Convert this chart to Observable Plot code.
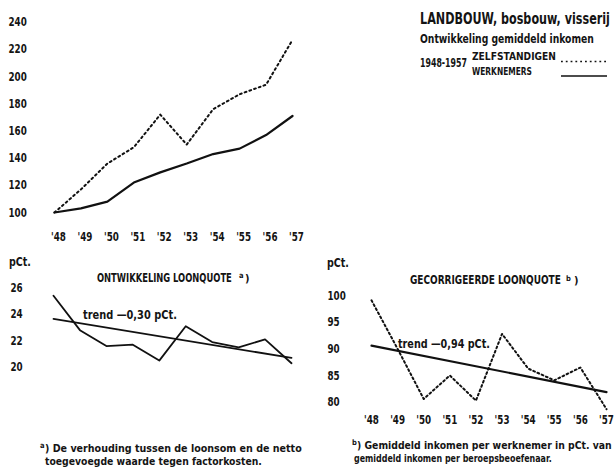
<!DOCTYPE html>
<html>
<head>
<meta charset="utf-8">
<script src="https://cdn.jsdelivr.net/npm/d3@7"></script>
<script src="https://cdn.jsdelivr.net/npm/@observablehq/plot@0.6"></script>
<style>
  html, body { margin: 0; padding: 0; background: #fff; }
  #wrap { position: relative; width: 615px; height: 471px; overflow: hidden; background: #fff; }
  #wrap > svg, #wrap > div { position: absolute; }
  .t { font-family: "Liberation Sans Narrow", "DejaVu Sans Condensed", "Liberation Sans", sans-serif; font-weight: bold; fill: #141414; }
</style>
</head>
<body>
<div id="wrap"></div>
<script>
// ---------- data ----------
const years = [1948, 1949, 1950, 1951, 1952, 1953, 1954, 1955, 1956, 1957];
const yearLabels = ["'48", "'49", "'50", "'51", "'52", "'53", "'54", "'55", "'56", "'57"];
const zelfstandigen = [100, 117, 136, 148, 172, 150, 176, 187, 194, 227];
const werknemers = [100, 103, 108, 122, 129.5, 136, 143, 147, 157, 171];
const loonquote = [25.4, 22.8, 21.6, 21.7, 20.5, 23.1, 21.9, 21.5, 22.1, 20.3];
const trendYears = [1948, 1957];
const loonquoteTrend = [23.65, 20.7];
const gecorrigeerd = [99.1, 90, 80.6, 85, 80.3, 92.8, 86.3, 84.1, 86.5, 78.7];
const gecorrigeerdTrend = [90.6, 81.9];
const topTicks = [100, 120, 140, 160, 180, 200, 220, 240];
const loonTicks = [20, 22, 24, 26];
const gecTicks = [80, 85, 90, 95, 100];

// ---------- tables ----------
const topZ = years.map((y, i) => ({year: y, v: zelfstandigen[i]}));
const topW = years.map((y, i) => ({year: y, v: werknemers[i]}));
const lq = years.map((y, i) => ({year: y, v: loonquote[i]}));
const lqT = trendYears.map((y, i) => ({year: y, v: loonquoteTrend[i]}));
const gc = years.map((y, i) => ({year: y, v: gecorrigeerd[i]}));
const gcT = trendYears.map((y, i) => ({year: y, v: gecorrigeerdTrend[i]}));
const fmtYear = d => yearLabels[years.indexOf(d)];

const FONT = '"Liberation Sans Narrow", "DejaVu Sans Condensed", "Liberation Sans", sans-serif';
const baseStyle = {fontFamily: FONT, fontWeight: "bold", fontSize: "12px", color: "#141414", background: "transparent", overflow: "visible"};
const wrap = document.getElementById("wrap");

function place(el, left, topPx) { el.style.left = left + "px"; el.style.top = topPx + "px"; wrap.appendChild(el); }
// narrow the tick labels horizontally (condensed look of the original lettering)
function squeezeTicks(svg, sx) {
  svg.querySelectorAll('g[aria-label$="tick label"] text').forEach(t => {
    const tr = t.getAttribute("transform");
    if (tr) t.setAttribute("transform", tr + ` scale(${sx},1)`);
  });
}

// ---------- top chart ----------
const topChart = Plot.plot({
  width: 310, height: 250,
  marginLeft: 54, marginRight: 18, marginTop: 21.7, marginBottom: 38,
  style: baseStyle,
  x: {domain: [1948, 1957]},
  y: {domain: [100, 240]},
  marks: [
    Plot.axisY(topTicks, {anchor: "left", label: null, tickSize: 0, tickPadding: 46, textAnchor: "start", fontSize: 12.5}),
    Plot.axisX(years, {anchor: "bottom", label: null, tickSize: 0, tickPadding: 20, tickFormat: fmtYear, dx: 4, fontSize: 12.5}),
    Plot.line(topZ, {x: "year", y: "v", stroke: "#111", strokeWidth: 2, strokeDasharray: "1.8,3.2"}),
    Plot.line(topW, {x: "year", y: "v", stroke: "#111", strokeWidth: 2.2})
  ]
});
squeezeTicks(topChart, 0.78);
place(topChart, 0, 0);

// ---------- bottom-left chart ----------
const blChart = Plot.plot({
  width: 310, height: 150,
  marginLeft: 53, marginRight: 19, marginTop: 37.3, marginBottom: 33.3,
  style: baseStyle,
  x: {domain: [1948, 1957], axis: null},
  y: {domain: [20, 26]},
  marks: [
    Plot.axisY(loonTicks, {anchor: "left", label: null, tickSize: 0, tickPadding: 43, textAnchor: "start", fontSize: 12.5}),
    Plot.line(lqT, {x: "year", y: "v", stroke: "#111", strokeWidth: 1.8}),
    Plot.line(lq, {x: "year", y: "v", stroke: "#111", strokeWidth: 1.8})
  ]
});
squeezeTicks(blChart, 0.78);
place(blChart, 0, 250);

// ---------- bottom-right chart ----------
const brChart = Plot.plot({
  width: 305, height: 190,
  marginLeft: 61, marginRight: 9, marginTop: 45, marginBottom: 38.3,
  style: baseStyle,
  x: {domain: [1948, 1957]},
  y: {domain: [80, 100]},
  marks: [
    Plot.axisY(gecTicks, {anchor: "left", label: null, tickSize: 0, tickPadding: 44, textAnchor: "start", fontSize: 12.5}),
    Plot.axisX(years, {anchor: "bottom", label: null, tickSize: 0, tickPadding: 13, tickFormat: fmtYear, fontSize: 12.5}),
    Plot.line(gcT, {x: "year", y: "v", stroke: "#111", strokeWidth: 2.2}),
    Plot.line(gc, {x: "year", y: "v", stroke: "#111", strokeWidth: 2, strokeDasharray: "1.8,2.8"})
  ]
});
squeezeTicks(brChart, 0.78);
place(brChart, 310, 250);

// ---------- titles, legend, notes ----------
const NS = "http://www.w3.org/2000/svg";
const ov = document.createElementNS(NS, "svg");
ov.setAttribute("width", 615); ov.setAttribute("height", 471);
ov.style.pointerEvents = "none";
place(ov, 0, 0);
function txt(str, x, y, size, len) {
  const t = document.createElementNS(NS, "text");
  t.setAttribute("class", "t");
  t.setAttribute("font-size", size);
  t.textContent = str;
  ov.appendChild(t);
  let sx = 1;
  if (len) { const nat = t.getComputedTextLength(); if (nat > 0) sx = len / nat; }
  t.setAttribute("transform", `translate(${x},${y}) scale(${sx.toFixed(4)},1)`);
  return t;
}
function seg(x1, y1, x2, y2, dash, w) {
  const l = document.createElementNS(NS, "line");
  l.setAttribute("x1", x1); l.setAttribute("y1", y1); l.setAttribute("x2", x2); l.setAttribute("y2", y2);
  l.setAttribute("stroke", "#111"); l.setAttribute("stroke-width", w);
  if (dash) l.setAttribute("stroke-dasharray", dash);
  ov.appendChild(l);
}
// legend block
txt("LANDBOUW, bosbouw, visserij", 420, 23.5, 15.5, 190);
txt("Ontwikkeling gemiddeld inkomen", 420, 43, 13, 174);
txt("1948-1957", 420, 66.5, 11.5, 47);
txt("ZELFSTANDIGEN", 472, 60, 11, 84);
txt("WERKNEMERS", 472, 75, 11, 60);
seg(561, 61.5, 607, 61.5, "1.8,3", 1.6);
seg(561, 76, 607, 76, null, 1.6);

// bottom-left
txt("pCt.", 9, 266, 12, 22);
txt("ONTWIKKELING LOONQUOTE", 97, 281.5, 11.5, 135);
txt("a", 239, 278, 7.5);
txt(")", 245, 281.5, 11);
txt("trend \u20140,30 pCt.", 83, 319, 12, 94);

// bottom-right
txt("pCt.", 327, 267, 12, 22);
txt("GECORRIGEERDE LOONQUOTE", 410, 284, 11.5, 151);
txt("b", 566, 281, 7.5);
txt(")", 574, 284, 11);
txt("trend \u20140,94 pCt.", 398, 348, 12, 92);

// footnotes
txt("a", 40, 448, 7.5);
txt(") De verhouding tussen de loonsom en de netto", 45, 452, 10.5, 257);
txt("toegevoegde waarde tegen factorkosten.", 45, 464.5, 10.5, 217);
txt("b", 352, 445, 7.5);
txt(") Gemiddeld inkomen per werknemer in pCt. van", 357, 449, 10.5, 255);
txt("gemiddeld inkomen per beroepsbeoefenaar.", 354, 461.5, 10.5, 198);
</script>
</body>
</html>
